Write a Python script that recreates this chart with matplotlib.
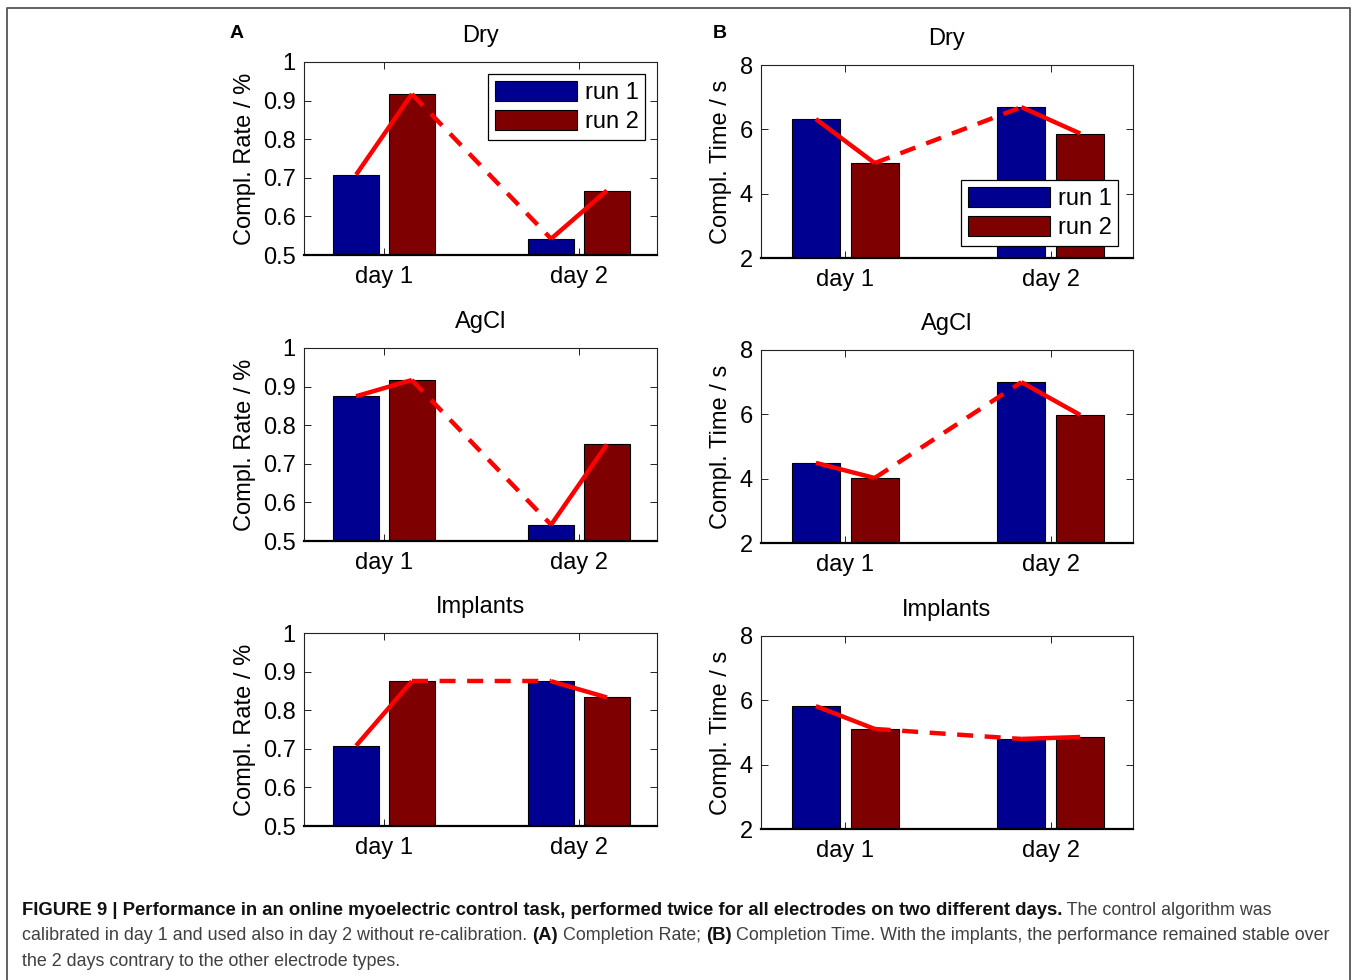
"""Completion rate / time per electrode type, two runs on two days."""

import matplotlib

matplotlib.use("Agg")
import matplotlib.pyplot as plt
from matplotlib.lines import Line2D
from matplotlib.patches import Patch

plt.rcParams["font.family"] = ["Liberation Sans", "DejaVu Sans"]

W, H = 1358, 980

days = ["day 1", "day 2"]
electrodes = ["Dry", "AgCl", "Implants"]

rate_dry_run1 = [0.708, 0.542]
rate_dry_run2 = [0.917, 0.667]
rate_agcl_run1 = [0.875, 0.542]
rate_agcl_run2 = [0.917, 0.750]
rate_impl_run1 = [0.708, 0.875]
rate_impl_run2 = [0.875, 0.833]

time_dry_run1 = [6.32, 6.69]
time_dry_run2 = [4.95, 5.87]
time_agcl_run1 = [4.49, 7.00]
time_agcl_run2 = [4.02, 5.98]
time_impl_run1 = [5.82, 4.80]
time_impl_run2 = [5.11, 4.86]

rate_ticks = [0.5, 0.6, 0.7, 0.8, 0.9, 1.0]
rate_ticklabels = ["0.5", "0.6", "0.7", "0.8", "0.9", "1"]
time_ticks = [2, 4, 6, 8]

BLUE = "#000090"
DARKRED = "#7f0000"
OFF = 0.143
BW = 0.233
FS = 17


def px_axes(fig, x0, y0, x1, y1):
    return fig.add_axes([x0 / W, 1 - y1 / H, (x1 - x0) / W, (y1 - y0) / H])


def draw_panel(ax, run1, run2, title, ylim, yticks, yticklabels, ylabel):
    x = [1, 2]
    ax.bar([v - OFF for v in x], [v - ylim[0] for v in run1], BW, bottom=ylim[0],
           color=BLUE, edgecolor="black", linewidth=0.8, zorder=2)
    ax.bar([v + OFF for v in x], [v - ylim[0] for v in run2], BW, bottom=ylim[0],
           color=DARKRED, edgecolor="black", linewidth=0.8, zorder=2)
    # red trend line: solid within a day, dashed across days
    ax.plot([1 - OFF, 1 + OFF], [run1[0], run2[0]], color="red", lw=3.2, zorder=3,
            solid_capstyle="butt")
    ax.plot([1 + OFF, 2 - OFF], [run2[0], run1[1]], color="red", lw=3.2, zorder=3,
            dashes=(3.6, 2.6))
    ax.plot([2 - OFF, 2 + OFF], [run1[1], run2[1]], color="red", lw=3.2, zorder=3,
            solid_capstyle="butt")
    ax.set_xlim(0.59, 2.40)
    ax.set_ylim(*ylim)
    ax.set_xticks(x)
    ax.set_xticklabels(days)
    ax.set_yticks(yticks)
    ax.set_yticklabels(yticklabels)
    ax.tick_params(direction="in", length=5, width=0.6, top=True, right=True,
                   labelsize=FS, colors="black", pad=6)
    ax.tick_params(axis="x", pad=8)
    for side in ["top", "right", "left"]:
        ax.spines[side].set_linewidth(0.8)
        ax.spines[side].set_color("#222222")
    ax.spines["bottom"].set_linewidth(1.6)
    ax.set_title(title, fontsize=FS, pad=14.5)
    ax.set_ylabel(ylabel, fontsize=FS, labelpad=5)


fig = plt.figure(figsize=(W / 100, H / 100), dpi=100)

# outer frame
fig.add_artist(Line2D([7 / W, 7 / W, 1350 / W, 1350 / W], [-0.01, 1 - 8 / H, 1 - 8 / H, -0.01],
                      transform=fig.transFigure, color="#555555", lw=1.3))

left_rows = [(62, 255), (348, 541), (633, 826)]
right_rows = [(65, 258), (350, 543), (636, 829)]
rate_data = [(rate_dry_run1, rate_dry_run2), (rate_agcl_run1, rate_agcl_run2),
             (rate_impl_run1, rate_impl_run2)]
time_data = [(time_dry_run1, time_dry_run2), (time_agcl_run1, time_agcl_run2),
             (time_impl_run1, time_impl_run2)]

axes_left = []
axes_right = []
for (y0, y1), (r1, r2), name in zip(left_rows, rate_data, electrodes):
    ax = px_axes(fig, 304, y0, 657, y1)
    draw_panel(ax, r1, r2, name, (0.5, 1.0), rate_ticks, rate_ticklabels, "Compl. Rate / %")
    axes_left.append(ax)
for (y0, y1), (t1, t2), name in zip(right_rows, time_data, electrodes):
    ax = px_axes(fig, 761, y0, 1133, y1)
    draw_panel(ax, t1, t2, name, (2, 8), time_ticks, [str(t) for t in time_ticks],
               "Compl. Time / s")
    axes_right.append(ax)

handles = [Patch(facecolor=BLUE, edgecolor="black", lw=0.8),
           Patch(facecolor=DARKRED, edgecolor="black", lw=0.8)]
for ax, anchor in [(axes_left[0], (645, 74)), (axes_right[0], (1118, 180))]:
    leg = ax.legend(handles, ["run 1", "run 2"], loc="upper right",
                    bbox_to_anchor=(anchor[0] / W, 1 - anchor[1] / H),
                    bbox_transform=fig.transFigure, borderaxespad=0, fontsize=FS,
                    handlelength=3.5, handleheight=0.95, handletextpad=0.3,
                    labelspacing=0.25, borderpad=0.28, fancybox=False, framealpha=1)
    leg.get_frame().set_edgecolor("black")
    leg.get_frame().set_linewidth(0.9)

fig.text(230 / W, 1 - 34 / H, "A", fontsize=14, fontweight="bold", va="center")
fig.text(713 / W, 1 - 34 / H, "B", fontsize=14, fontweight="bold", va="center")

# caption with mixed bold / regular runs
cap_family = ["Liberation Sans Narrow", "Liberation Sans"]
caption_lines = [
    [("FIGURE 9 | Performance in an online myoelectric control task, performed twice for "
      "all electrodes on two different days.", True), (" The control algorithm was", False)],
    [("calibrated in day 1 and used also in day 2 without re-calibration. ", False),
     ("(A)", True), (" Completion Rate; ", False), ("(B)", True),
     (" Completion Time. With the implants, the performance remained stable over", False)],
    [("the 2 days contrary to the other electrode types.", False)],
]
caption_y = [910, 935, 961]

renderer = fig.canvas.get_renderer()
for segments, yy in zip(caption_lines, caption_y):
    xx = 22
    for text, bold in segments:
        t = fig.text(xx / W, 1 - yy / H, text, fontsize=13.3 if bold else 12.85,
                     family=cap_family, fontweight="bold" if bold else "normal",
                     color="#111111" if bold else "#404040", va="center", ha="left")
        bb = t.get_window_extent(renderer=renderer)
        xx += bb.width

fig.savefig("out.png", dpi=100)
